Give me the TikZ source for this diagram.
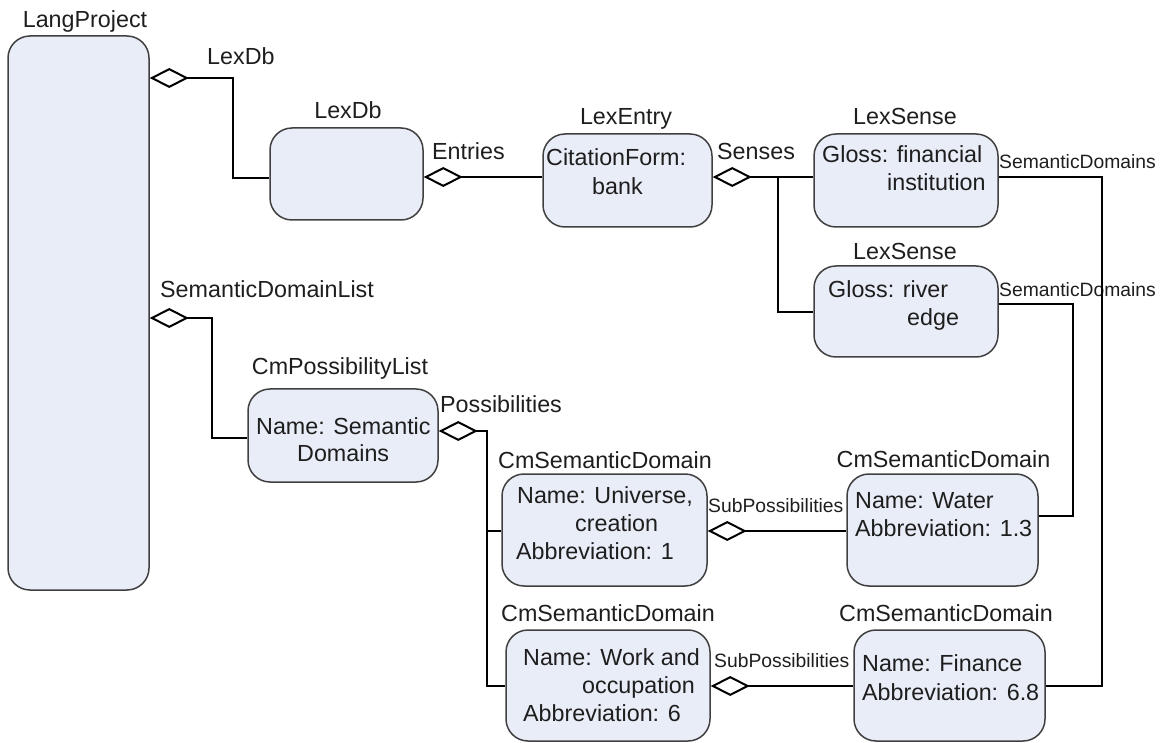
\documentclass[tikz,border=0pt]{standalone}
\usepackage{fontspec}
\setmainfont{Liberation Sans}
\usetikzlibrary{arrows.meta}
\definecolor{boxfill}{RGB}{233,237,247}
\definecolor{boxline}{RGB}{64,64,64}
\definecolor{ink}{RGB}{30,30,30}
\begin{document}
\begin{tikzpicture}[x=1pt,y=-1pt,
  cls/.style={draw=boxline,line width=1.5pt,fill=boxfill,rounded corners=22pt,
    inner sep=0pt,rectangle},
  title/.style={inner sep=0pt,anchor=base,text=ink,font=\fontsize{23.3}{28}\selectfont},
  role/.style={inner sep=0pt,anchor=base west,text=ink,font=\fontsize{23.3}{28}\selectfont},
  smallrole/.style={inner sep=0pt,anchor=base west,text=ink,font=\fontsize{19.3}{23}\selectfont},
  body/.style={inner sep=0pt,anchor=base west,text=ink,font=\fontsize{23.3}{28}\selectfont},
  link/.style={line width=2pt,draw=black},
  agg/.style={link,{Diamond[open,length=39pt,width=20pt]}-}]
\useasboundingbox (0,0) rectangle (1160,743);

% class boxes
\node[cls,minimum width=141,minimum height=554] (lang) at (78.5,313) {};
\node[cls,minimum width=153,minimum height=92] (lexdb) at (346.5,174) {};
\node[cls,minimum width=169,minimum height=93] (entry) at (627.5,180.5) {};
\node[cls,minimum width=184,minimum height=93] (senseA) at (906,180.5) {};
\node[cls,minimum width=184,minimum height=91] (senseB) at (906,311.5) {};
\node[cls,minimum width=190,minimum height=93] (plist) at (343,435.5) {};
\node[cls,minimum width=205,minimum height=112] (univ) at (604.5,530) {};
\node[cls,minimum width=191,minimum height=112] (water) at (942.5,530) {};
\node[cls,minimum width=204,minimum height=111] (work) at (608,685.5) {};
\node[cls,minimum width=191,minimum height=111] (fin) at (949.5,685.5) {};

% class names
\node[title] (nLang) at (85,28) {LangProject};
\node[title] (nLexDb) at (348,119) {LexDb};
\node[title] (nEntry) at (626,125) {LexEntry};
\node[title] (nSenseA) at (905,125) {LexSense};
\node[title] (nSenseB) at (905,260) {LexSense};
\node[title] (nPlist) at (340,375) {CmPossibilityList};
\node[title] (nUniv) at (605,468) {CmSemanticDomain};
\node[title] (nWater) at (943.5,467) {CmSemanticDomain};
\node[title] (nWork) at (608,621) {CmSemanticDomain};
\node[title] (nFin) at (946,621) {CmSemanticDomain};

% box contents
\node[body] (tEntry1) at (546,166) {CitationForm:};
\node[body] (tEntry2) at (592,195) {bank};
\node[body] (tSenseA1) at (822,163) {Gloss: financial};
\node[body] (tSenseA2) at (887,191) {institution};
\node[body] (tSenseB1) at (828,298) {Gloss: river};
\node[body] (tSenseB2) at (907,326) {edge};
\node[body] (tPlist1) at (256,435) {Name: Semantic};
\node[body] (tPlist2) at (297,461) {Domains};
\node[body] (tUniv1) at (517,503) {Name: Universe,};
\node[body] (tUniv2) at (575,531) {creation};
\node[body] (tUniv3) at (516,559) {Abbreviation: 1};
\node[body] (tWater1) at (855,508) {Name: Water};
\node[body] (tWater2) at (855,536) {Abbreviation: 1.3};
\node[body] (tWork1) at (523,665) {Name: Work and};
\node[body] (tWork2) at (582,693) {occupation};
\node[body] (tWork3) at (523,721) {Abbreviation: 6};
\node[body] (tFin1) at (862,671) {Name: Finance};
\node[body] (tFin2) at (862,700) {Abbreviation: 6.8};

% association role names
\node[role] (rLexDb) at (207,65) {LexDb};
\node[role] (rEntries) at (432,160) {Entries};
\node[role] (rSenses) at (717,160) {Senses};
\node[role] (rSDL) at (160,298) {SemanticDomainList};
\node[role] (rPoss) at (440,413) {Possibilities};
\node[smallrole] (rSDa) at (999,169) {SemanticDomains};
\node[smallrole] (rSDb) at (999,297) {SemanticDomains};
\node[smallrole] (rSubA) at (708,512) {SubPossibilities};
\node[smallrole] (rSubB) at (714,667) {SubPossibilities};

% aggregations (diamond at the owner)
\draw[agg] (lang.east |- 0,78) -- (233,78) |- (lexdb.west |- 0,178);
\draw[agg] (lexdb.east |- 0,177) -- (entry.west |- 0,177);
\draw[agg] (entry.east |- 0,177) -- (senseA.west |- 0,177);
\draw[link] (778,177) |- (senseB.west |- 0,312);
\draw[agg] (lang.east |- 0,318) -- (212,318) |- (plist.west |- 0,438);
\draw[agg] (plist.east |- 0,431) -- (487,431) |- (work.west |- 0,686);
\draw[link] (487,531) -- (univ.west |- 0,531);
\draw[agg] (univ.east |- 0,531) -- (water.west |- 0,531);
\draw[agg] (work.east |- 0,686) -- (fin.west |- 0,686);

% references to semantic domains
\draw[link] (senseA.east |- 0,177) -- (1102,177) |- (fin.east |- 0,686);
\draw[link] (senseB.east |- 0,304) -- (1073,304) |- (water.east |- 0,516);
\end{tikzpicture}
\end{document}
